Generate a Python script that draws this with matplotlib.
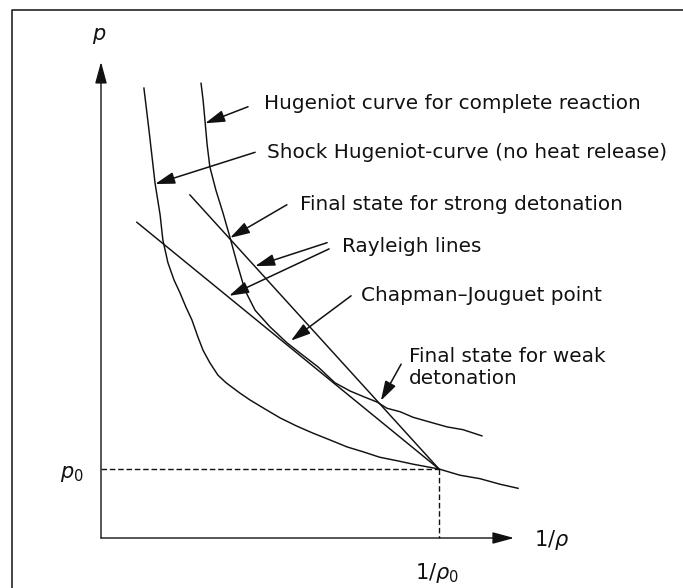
import numpy as np
import matplotlib
matplotlib.use("Agg")
import matplotlib.pyplot as plt
from matplotlib.lines import Line2D

plt.rcParams["font.family"] = ["DejaVu Sans"]
plt.rcParams["mathtext.fontset"] = "dejavusans"

# Specific volume v = 1/rho and pressure p, both scaled by the initial state (v0 = p0 = 1)
shock_v = [0.127, 0.142, 0.160, 0.175, 0.183, 0.198, 0.216, 0.234, 0.251, 0.269,
           0.287, 0.302, 0.322, 0.346, 0.370, 0.411, 0.441, 0.485, 0.530, 0.580,
           0.627, 0.678, 0.728, 0.775, 0.825, 0.876, 0.923, 1.000, 1.062, 1.121,
           1.180, 1.234]
shock_p = [6.52, 5.91, 5.14, 4.68, 4.32, 3.99, 3.74, 3.55, 3.35, 3.16,
           2.91, 2.72, 2.54, 2.36, 2.25, 2.10, 2.00, 1.87, 1.74, 1.62,
           1.52, 1.42, 1.32, 1.25, 1.17, 1.12, 1.07, 1.00, 0.91, 0.86,
           0.78, 0.72]

react_v = [0.296, 0.302, 0.308, 0.314, 0.322, 0.340, 0.361, 0.382, 0.402, 0.426,
           0.456, 0.500, 0.550, 0.589, 0.642, 0.692, 0.737, 0.781, 0.817, 0.846,
           0.885, 0.923, 0.973, 1.024, 1.071, 1.127]
react_p = [6.59, 6.35, 6.03, 5.70, 5.38, 5.04, 4.71, 4.35, 3.99, 3.59,
           3.30, 3.06, 2.83, 2.68, 2.48, 2.25, 2.13, 2.04, 1.97, 1.88,
           1.83, 1.75, 1.68, 1.61, 1.57, 1.48]

# Rayleigh lines through (v0, p0): p = p0 + m (v0 - v)
v0, p0 = 1.0, 1.0
rayleigh_slopes = [5.39, 4.0]      # strong-detonation line, Chapman-Jouguet tangent
rayleigh_vstart = [0.263, 0.106]

axis_v_max = 1.222
axis_p_max = 6.90

labels = [
    "Hugeniot curve for complete reaction",
    "Shock Hugeniot-curve (no heat release)",
    "Final state for strong detonation",
    "Rayleigh lines",
    "Chapman\u2013Jouguet point",
    "Final state for weak\ndetonation",
]
label_xy = [(0.482, 6.30), (0.491, 5.59), (0.589, 4.83), (0.713, 4.22),
            (0.769, 3.52), (0.911, 2.47)]

# (tail, head) of each pointer arrow
pointers = [
    ((0.435, 6.25), (0.308, 6.01)),
    ((0.456, 5.59), (0.160, 5.13)),
    ((0.550, 4.83), (0.382, 4.35)),
    ((0.669, 4.28), (0.456, 3.94)),
    ((0.675, 4.19), (0.379, 3.51)),
    ((0.740, 3.51), (0.562, 2.86)),
    ((0.888, 2.52), (0.828, 1.99)),
]

ink = "#111111"
fig = plt.figure(figsize=(6.83, 5.88), dpi=100)
ax = fig.add_axes([0, 0, 1, 1])
ax.set_xlim(-0.2988, 1.7219)
ax.set_ylim(-0.7246, 7.797)
ax.axis("off")

# outer frame (left and top edges)
fig.add_artist(Line2D([12 / 683, 12 / 683, 1.0], [0.0, 1 - 10 / 588, 1 - 10 / 588],
                      transform=fig.transFigure, color=ink, lw=1.1))

# axes with arrow heads
arrow_axis = dict(arrowstyle="-|>,head_length=1.1,head_width=0.3", color=ink,
                  lw=1.0, mutation_scale=12, shrinkA=0, shrinkB=0)
ax.annotate("", xy=(0, axis_p_max), xytext=(0, 0), arrowprops=arrow_axis)
ax.annotate("", xy=(axis_v_max, 0), xytext=(0, 0), arrowprops=arrow_axis)

# curves
ax.plot(shock_v, shock_p, color=ink, lw=1.05)
ax.plot(react_v, react_p, color=ink, lw=1.05)
for m, vs in zip(rayleigh_slopes, rayleigh_vstart):
    vv = np.array([vs, v0])
    ax.plot(vv, p0 + m * (v0 - vv), color=ink, lw=1.05)

# initial state guides
ax.plot([0, v0], [p0, p0], color=ink, lw=1.0, ls=(0, (4, 2)))
ax.plot([v0, v0], [p0, 0], color=ink, lw=1.0, ls=(0, (4, 2)))

fs = 14.4
ax.text(-0.006, 7.28, "$p$", fontsize=15, ha="center", va="center", color=ink)
ax.text(-0.085, 0.93, "$p_0$", fontsize=15, ha="center", va="center", color=ink)
ax.text(1.333, -0.03, r"$1/\rho$", fontsize=15, ha="center", va="center", color=ink)
ax.text(0.994, -0.50, r"$1/\rho_0$", fontsize=15, ha="center", va="center", color=ink)

for txt, (x, y) in zip(labels, label_xy):
    ax.text(x, y, txt, fontsize=fs, ha="left", va="center", color=ink,
            linespacing=1.15)

arrow_ptr = dict(arrowstyle="-|>,head_length=1.0,head_width=0.3", color=ink,
                 lw=1.1, mutation_scale=12, shrinkA=0, shrinkB=0)
for tail, head in pointers:
    ax.annotate("", xy=head, xytext=tail, arrowprops=arrow_ptr)

fig.savefig("out.png", dpi=100)
